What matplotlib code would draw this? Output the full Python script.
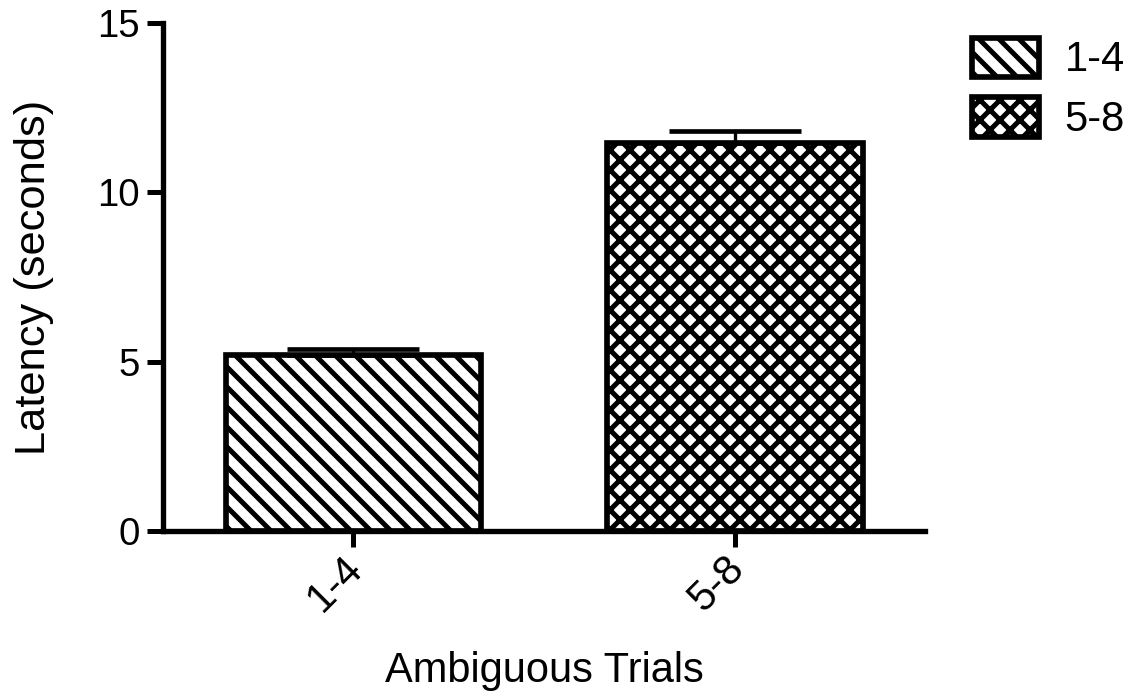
import matplotlib.pyplot as plt
import matplotlib.transforms as mtransforms
import numpy as np

plt.rcParams['font.family'] = ['Liberation Sans', 'DejaVu Sans']
plt.rcParams['hatch.linewidth'] = 3.0

# data
groups = ['1-4', '5-8']
latency = [5.2, 11.45]
sem = [0.18, 0.36]
hatches = ['\\\\', 'xx']

fig = plt.figure(figsize=(1130 / 120, 696 / 120), dpi=120)
ax = fig.add_axes([0.144, 0.237, 0.675, 0.730])

x = np.arange(len(groups))
bars = ax.bar(x, latency, width=0.67, color='white', edgecolor='black',
              linewidth=3.4, zorder=2)
for b, h, g in zip(bars, hatches, groups):
    b.set_hatch(h)
    b.set_label(g)

ax.errorbar(x, latency, yerr=[[0] * len(sem), sem], fmt='none', ecolor='black',
            elinewidth=2.0, capsize=39.6, capthick=2.8, zorder=3)

ax.set_xlim(-0.5, 1.5)
ax.set_ylim(0, 15)
ax.set_yticks([0, 5, 10, 15])
ax.set_xticks(x)
ax.set_xticklabels(groups, rotation=45, ha='right', fontsize=25)

for side in ['top', 'right']:
    ax.spines[side].set_visible(False)
for side in ['left', 'bottom']:
    ax.spines[side].set_linewidth(3.2)
ax.tick_params(axis='both', length=9.6, width=3.0, labelsize=23, pad=4)
ax.tick_params(axis='x', labelsize=25, pad=1)

# nudge the rotated x labels a little to the right
shift = mtransforms.ScaledTranslation(17 / 120, 0, fig.dpi_scale_trans)
for lab in ax.get_xticklabels():
    lab.set_transform(lab.get_transform() + shift)

ax.set_ylabel('Latency (seconds)', fontsize=26, labelpad=26)
ax.set_xlabel('Ambiguous Trials', fontsize=25, labelpad=19)

leg = fig.legend(handles=list(bars), labels=groups, loc='upper left',
                 bbox_to_anchor=(0.842, 0.976), frameon=False, fontsize=25,
                 handlelength=1.6, handleheight=1.08, handletextpad=0.62,
                 labelspacing=0.4, borderpad=0)

fig.savefig('out.png', dpi=120)
